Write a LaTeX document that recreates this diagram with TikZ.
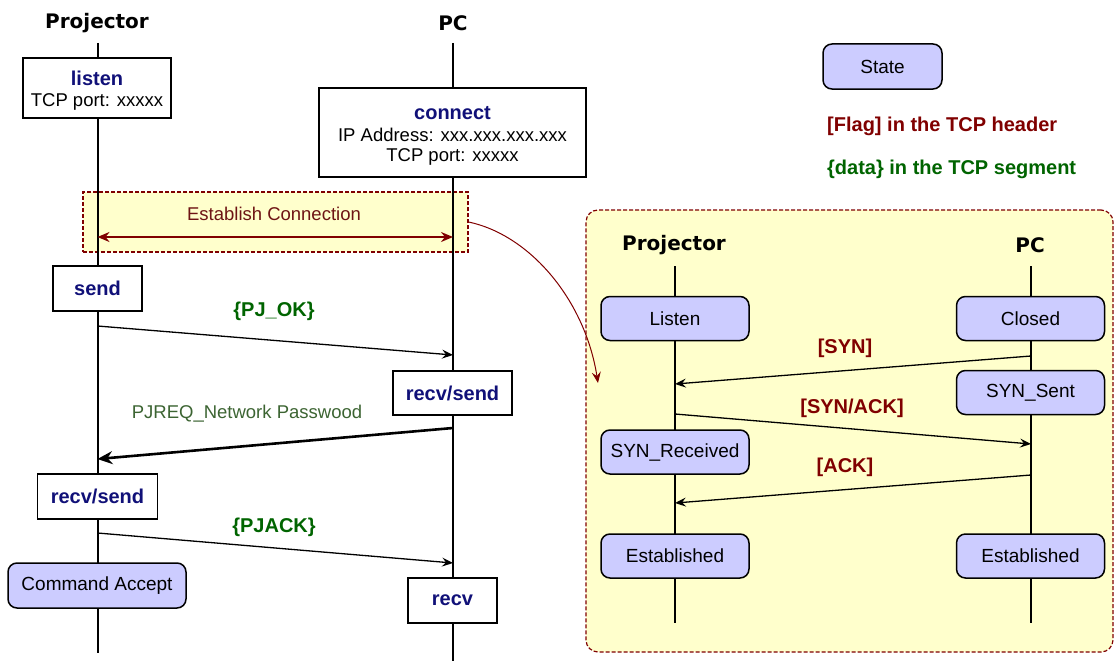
\documentclass[tikz,border=0pt]{standalone}
\usepackage{fontspec}
\setmainfont{Liberation Sans}
\newfontfamily\hdrfont{DejaVu Sans}
\usetikzlibrary{arrows.meta}
\definecolor{navy}{RGB}{16,16,120}
\definecolor{dred}{RGB}{128,0,0}
\definecolor{ecol}{RGB}{110,20,20}
\definecolor{dgreen}{RGB}{0,100,0}
\definecolor{pgreen}{RGB}{60,100,50}
\definecolor{ylw}{RGB}{255,255,204}
\definecolor{lav}{RGB}{204,204,255}
\tikzset{
 hdr/.style={font=\hdrfont\bfseries\fontsize{20}{24}\selectfont, inner sep=0},
 wbox/.style={draw, line width=1.5, fill=white, inner sep=0, text=navy, font=\bfseries\fontsize{20}{24}\selectfont},
 state/.style={draw, line width=1.5, fill=lav, rounded corners=9, inner sep=0, minimum width=148, minimum height=44, font=\fontsize{19}{22}\selectfont},
 bl/.style={font=\bfseries\fontsize{20}{24}\selectfont, text=navy, inner sep=0},
 tx/.style={font=\fontsize{18.5}{22}\selectfont, inner sep=0},
 life/.style={line width=2},
 msg/.style={line width=1.3, -{Stealth[length=11,width=9,inset=4]}},
 flag/.style={font=\bfseries\fontsize{20}{24}\selectfont, text=dred, inner sep=0},
 datal/.style={font=\bfseries\fontsize{20}{24}\selectfont, text=dgreen, inner sep=0},
 frame/.style={draw=dred, line width=1.2, dash pattern=on 4 off 2, fill=ylw, inner sep=0},
}
\begin{document}
\begin{tikzpicture}[x=1pt,y=-1pt]
\useasboundingbox (0,0) rectangle (1116,661);
% yellow frames
\node[frame, minimum width=385, minimum height=60] (estab) at (275.5,222) {};
\node[frame, rounded corners=12, minimum width=527, minimum height=442] (tcp) at (849.5,431) {};
% headers
\node[hdr] (lproj) at (97,23) {Projector};
\node[hdr] (lpc) at (453,23) {PC};
\node[hdr] (rproj) at (674,245) {Projector};
\node[hdr] (rpc) at (1030,245) {PC};
% lifeline coordinates
\coordinate (lpt) at (97.5,43); \coordinate (lpb) at (97.5,653);
\coordinate (lct) at (453,43); \coordinate (lcb) at (453,661);
\coordinate (rpt) at (675,266); \coordinate (rpb) at (675,623);
\coordinate (rct) at (1031,266); \coordinate (rcb) at (1031,623);
\draw[life] (lpt) -- (lpb);
\draw[life] (lct) -- (lcb);
\draw[life] (rpt) -- (rpb);
\draw[life] (rct) -- (rcb);
% left boxes
\node[wbox, minimum width=148, minimum height=60] (listen) at (97,88) {};
\node[bl] (listent) at (97,78) {listen};
\node[tx] (listenp) at (97,102) {TCP port: xxxxx};
\node[wbox, minimum width=267, minimum height=89] (connect) at (452.5,132.5) {};
\node[bl] (connectt) at (452.5,113) {connect};
\node[tx] (connectip) at (452.5,135) {IP Address: xxx.xxx.xxx.xxx};
\node[tx] (connectp) at (452.5,157) {TCP port: xxxxx};
\node[wbox, minimum width=89, minimum height=45] (send) at (97.5,288.5) {send};
\node[wbox, minimum width=119, minimum height=44] (rspc) at (452.5,393) {recv/send};
\node[wbox, minimum width=120, minimum height=45] (rspj) at (97.5,496.5) {recv/send};
\node[state, minimum width=178, minimum height=45] (cmd) at (97,585.5) {Command Accept};
\node[wbox, minimum width=89, minimum height=45] (recv) at (452.5,600.5) {recv};
% establish connection
\node[tx, text=ecol] (estabt) at (274,214) {Establish Connection};
\coordinate (ea) at (97.5,237); \coordinate (eb) at (453,237);
\draw[dred, line width=2.5, {Stealth[length=12,width=10,inset=4]}-{Stealth[length=12,width=10,inset=4]}] (ea) -- (eb);
\coordinate (cend) at (598,383);
\draw[dred, line width=1, -{Stealth[length=11,width=9,inset=4]}] (estab.east) .. controls (530,235) and (585,300) .. (cend);
% left messages
\coordinate (m1a) at (97.5,326); \coordinate (m1b) at (453,355);
\coordinate (m2a) at (453,428); \coordinate (m2b) at (97.5,459);
\coordinate (m3a) at (97.5,533); \coordinate (m3b) at (453,563);
\draw[msg] (m1a) -- (m1b);
\draw[line width=2.6, -{Stealth[length=15,width=13,inset=5]}] (m2a) -- (m2b);
\draw[msg] (m3a) -- (m3b);
\node[datal] (pjok) at (274,311) {\{PJ\_OK\}};
\node[tx, text=pgreen] (pjreq) at (247,414) {PJREQ\_Network Passwood};
\node[datal] (pjack) at (274,527) {\{PJACK\}};
% legend
\node[state, minimum width=119, minimum height=45] (legstate) at (882.5,66.5) {State};
\node[flag, anchor=west] (legflag) at (827,126) {[Flag] in the TCP header};
\node[datal, anchor=west] (legdata) at (827,169) {\{data\} in the TCP segment};
% right states
\node[state] (slisten) at (675,318.5) {Listen};
\node[state] (sclosed) at (1030.5,318.5) {Closed};
\node[state] (ssent) at (1030.5,392.5) {SYN\_Sent};
\node[state] (srecv) at (675,452) {SYN\_Received};
\node[state] (sestl) at (675,556) {Established};
\node[state] (sestr) at (1030.5,556) {Established};
% right messages
\coordinate (s1a) at (1031,356); \coordinate (s1b) at (675,384);
\coordinate (s2a) at (675,414); \coordinate (s2b) at (1031,444);
\coordinate (s3a) at (1031,475); \coordinate (s3b) at (675,503);
\draw[msg] (s1a) -- (s1b);
\draw[msg] (s2a) -- (s2b);
\draw[msg] (s3a) -- (s3b);
\node[flag] (lsyn) at (845,348) {[SYN]};
\node[flag] (lsynack) at (852,408) {[SYN/ACK]};
\node[flag] (lack) at (845,467) {[ACK]};
\end{tikzpicture}
\end{document}
